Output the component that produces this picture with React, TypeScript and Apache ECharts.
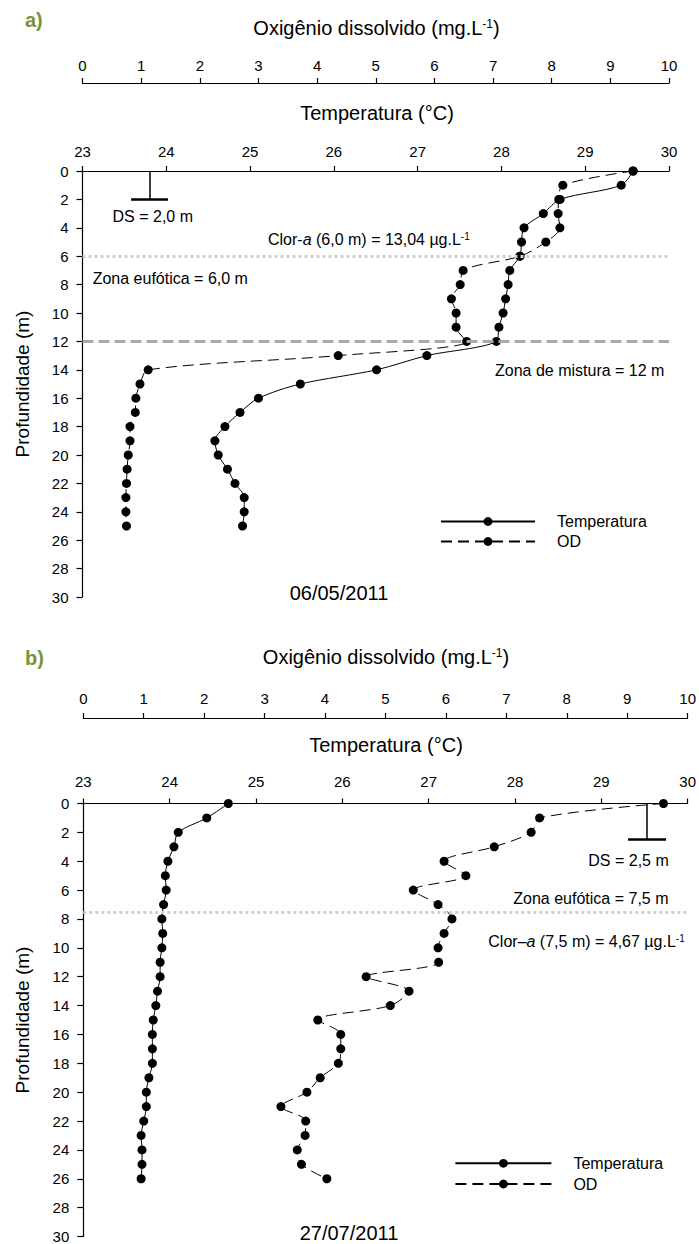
import React, { useEffect, useRef } from 'react';
import * as echarts from 'echarts';

// ---------- data ----------
const depthsA = [0, 1, 2, 3, 4, 5, 6, 7, 8, 9, 10, 11, 12, 13, 14, 15, 16, 17, 18, 19, 20, 21, 22, 23, 24, 25];
const tempA = [29.57, 29.43, 28.7, 28.5, 28.27, 28.24, 28.22, 28.1, 28.08, 28.05, 28.02, 27.97, 27.94, 27.11, 26.51, 25.6, 25.1, 24.88, 24.7, 24.58, 24.62, 24.73, 24.82, 24.93, 24.93, 24.91];
const odA = [9.39, 8.19, 8.12, 8.11, 8.14, 7.9, 7.46, 6.49, 6.44, 6.29, 6.37, 6.37, 6.55, 4.36, 1.12, 0.98, 0.91, 0.9, 0.81, 0.81, 0.78, 0.76, 0.75, 0.74, 0.74, 0.75];

const depthsB = [0, 1, 2, 3, 4, 5, 6, 7, 8, 9, 10, 11, 12, 13, 14, 15, 16, 17, 18, 19, 20, 21, 22, 23, 24, 25, 26];
const tempB = [24.68, 24.43, 24.1, 24.05, 23.98, 23.95, 23.96, 23.93, 23.91, 23.92, 23.91, 23.89, 23.89, 23.86, 23.84, 23.81, 23.8, 23.8, 23.8, 23.76, 23.73, 23.73, 23.7, 23.67, 23.68, 23.68, 23.67];
const odB = [9.6, 7.55, 7.41, 6.8, 5.97, 6.33, 5.46, 5.87, 6.1, 5.97, 5.87, 5.88, 4.68, 5.39, 5.08, 3.88, 4.26, 4.26, 4.22, 3.92, 3.7, 3.27, 3.68, 3.67, 3.54, 3.61, 4.03];

// reference depths (m)
const secchiA = 2.0;
const euphoticA = 6.0;
const mixingA = 12;
const secchiB = 2.5;
const euphoticB = 7.5;
// where the Secchi marker sits on the temperature scale (°C)
const secchiTempA = 23.8;
const secchiTempB = 29.53;
const secchiBarHalf = 0.22;

// axes ranges / ticks
const tempTicks = [23, 24, 25, 26, 27, 28, 29, 30];
const odTicks = [0, 1, 2, 3, 4, 5, 6, 7, 8, 9, 10];
const depthTicks = [0, 2, 4, 6, 8, 10, 12, 14, 16, 18, 20, 22, 24, 26, 28, 30];

const FONT = "'Liberation Sans', Arial, Helvetica, sans-serif";
const BLACK = '#000';

function xAxisDef(grid: number, ticks: number[], offset: number, margin: number) {
  return {
    gridIndex: grid,
    type: 'value',
    position: 'top',
    offset,
    min: ticks[0],
    max: ticks[ticks.length - 1],
    interval: ticks[1] - ticks[0],
    axisLine: { show: true, onZero: false, lineStyle: { color: BLACK, width: 1.2 } },
    axisTick: { show: true, length: 5, lineStyle: { color: BLACK, width: 1.2 } },
    axisLabel: { color: BLACK, fontSize: 15, fontFamily: FONT, margin },
    splitLine: { show: false },
  };
}

function yAxisDef(grid: number) {
  return {
    gridIndex: grid,
    type: 'value',
    inverse: true,
    min: depthTicks[0],
    max: depthTicks[depthTicks.length - 1],
    interval: depthTicks[1] - depthTicks[0],
    name: 'Profundidade (m)',
    nameLocation: 'middle',
    nameGap: 51,
    nameTextStyle: { color: BLACK, fontSize: 19, fontFamily: FONT },
    axisLine: { show: true, onZero: false, lineStyle: { color: BLACK, width: 1.2 } },
    axisTick: { show: true, length: 6, lineStyle: { color: BLACK, width: 1.2 } },
    axisLabel: { color: BLACK, fontSize: 15, fontFamily: FONT, margin: 14 },
    splitLine: { show: false },
  };
}

const supRich = {
  n: { fontSize: 20, fontFamily: FONT, fill: BLACK, color: BLACK },
  s: { fontSize: 12, fontFamily: FONT, fill: BLACK, color: BLACK, verticalAlign: 'top' },
};
const annRich = {
  n: { fontSize: 16, fontFamily: FONT, color: BLACK },
  i: { fontSize: 16, fontFamily: FONT, color: BLACK, fontStyle: 'italic' },
  s: { fontSize: 10, fontFamily: FONT, color: BLACK, verticalAlign: 'top' },
};

function txt(x: number, y: number, text: string, extra: any = {}) {
  const align = extra.align || 'left';
  return {
    type: 'text',
    x,
    y,
    silent: true,
    style: {
      text,
      fill: BLACK,
      fontSize: 16,
      fontFamily: FONT,
      align,
      textAlign: align,
      verticalAlign: 'middle',
      textVerticalAlign: 'middle',
      ...extra,
    },
  };
}

function lineSeries(name: string, xIdx: number, yIdx: number, xs: number[], ds: number[], dashed: boolean, markLine?: any) {
  return {
    name,
    type: 'line',
    xAxisIndex: xIdx,
    yAxisIndex: yIdx,
    data: ds.map((d, i) => [xs[i], d]),
    symbol: 'circle',
    symbolSize: 9,
    smooth: 0.3,
    lineStyle: { color: BLACK, width: 1, type: dashed ? [11, 6] : 'solid' },
    itemStyle: { color: BLACK },
    z: 3,
    markLine,
  };
}

function refLines(euphotic: number, mixing: number | null, secchi: number, secchiT: number) {
  const data: any[] = [
    { yAxis: euphotic, lineStyle: { color: '#cfcfcf', type: [3, 3], width: 3 } },
  ];
  if (mixing !== null) {
    data.push({ yAxis: mixing, lineStyle: { color: '#a8a8a8', type: [11, 5], width: 3 } });
  }
  data.push([
    { coord: [secchiT, 0], lineStyle: { color: BLACK, width: 1.5, type: 'solid' } },
    { coord: [secchiT, secchi] },
  ]);
  data.push([
    { coord: [secchiT - secchiBarHalf, secchi], lineStyle: { color: BLACK, width: 2.5, type: 'solid' } },
    { coord: [secchiT + secchiBarHalf, secchi] },
  ]);
  return {
    silent: true,
    symbol: ['none', 'none'],
    label: { show: false },
    emphasis: { disabled: true },
    data,
  };
}

function legendDef(left: number, top: number, width: number, gap: number) {
  return {
    orient: 'vertical',
    left,
    top,
    padding: 0,
    itemWidth: width,
    itemHeight: 11,
    itemGap: gap,
    selectedMode: false,
    data: ['Temperatura', 'OD'],
    textStyle: { color: BLACK, fontSize: 16, fontFamily: FONT, padding: [0, 0, 0, 17] },
  };
}

export default function App() {
  const ref = useRef<HTMLDivElement>(null);
  useEffect(() => {
    if (!ref.current) return;
    const chart = echarts.init(ref.current, undefined, { renderer: 'svg' });
    const option: any = {
      animation: false,
      backgroundColor: '#fff',
      textStyle: { fontFamily: FONT },
      grid: [
        { left: 82.5, top: 171, width: 586.5, height: 426 },
        { left: 83.3, top: 803.5, width: 606.2, height: 435.5 },
      ],
      xAxis: [
        xAxisDef(0, tempTicks, 0, 12),
        xAxisDef(0, odTicks, 88, 10),
        xAxisDef(1, tempTicks, 0, 15),
        xAxisDef(1, odTicks, 85.5, 12),
      ],
      yAxis: [yAxisDef(0), yAxisDef(1)],
      legend: [legendDef(440, 513.5, 94, 4), legendDef(454.4, 1155.3, 96, 4.7)],
      series: [
        lineSeries('Temperatura', 0, 0, tempA, depthsA, false, refLines(euphoticA, mixingA, secchiA, secchiTempA)),
        lineSeries('OD', 1, 0, odA, depthsA, true),
        lineSeries('Temperatura', 2, 1, tempB, depthsB, false, refLines(euphoticB, null, secchiB, secchiTempB)),
        lineSeries('OD', 3, 1, odB, depthsB, true),
      ],
      graphic: [
        // panel a
        txt(25, 20, 'a)', { fontSize: 20, fontWeight: 'bold', fill: '#77933c' }),
        txt(376.5, 28.3, '{n|Oxigênio dissolvido (mg.L}{s|-1}{n|)}', { align: 'center', rich: supRich, fontSize: 20 }),
        txt(377, 113, 'Temperatura (°C)', { align: 'center', fontSize: 20 }),
        txt(152.8, 216.7, 'DS = 2,0 m', { align: 'center' }),
        txt(268, 239, '{n|Clor-}{i|a}{n| (6,0 m) = 13,04 µg.L}{s|-1}', { rich: annRich }),
        txt(92.7, 278.3, 'Zona eufótica = 6,0 m'),
        txt(495, 370, 'Zona de mistura = 12 m'),
        txt(339, 593, '06/05/2011', { align: 'center', fontSize: 20 }),
        // panel b
        txt(25, 658, 'b)', { fontSize: 20, fontWeight: 'bold', fill: '#77933c' }),
        txt(386, 657, '{n|Oxigênio dissolvido (mg.L}{s|-1}{n|)}', { align: 'center', rich: supRich, fontSize: 20 }),
        txt(386, 745, 'Temperatura (°C)', { align: 'center', fontSize: 20 }),
        txt(588.3, 860, 'DS = 2,5 m'),
        txt(513.3, 898.3, 'Zona eufótica = 7,5 m'),
        txt(488.3, 941.7, '{n|Clor–}{i|a}{n| (7,5 m) = 4,67 µg.L}{s|-1}', { rich: annRich }),
        txt(349, 1233, '27/07/2011', { align: 'center', fontSize: 20 }),
      ],
    };
    chart.setOption(option);
    return () => chart.dispose();
  }, []);
  return (
    <div
      ref={ref}
      style={{ position: 'absolute', left: 0, top: 0, width: 699, height: 1244, background: '#fff' }}
    />
  );
}
